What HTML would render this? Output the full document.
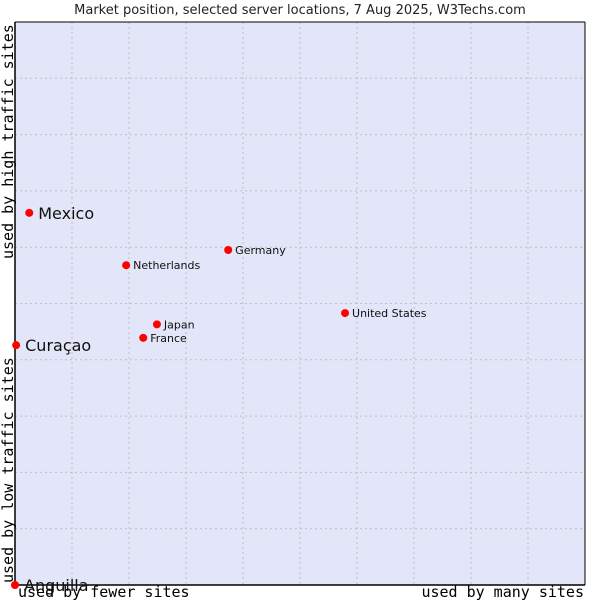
<!DOCTYPE html>
<html><head><meta charset="utf-8"><style>
body{margin:0;background:#fff;}
svg{display:block;font-family:"DejaVu Sans","Liberation Sans",sans-serif;}
</style></head><body>
<svg id="c" width="600" height="600">
<text x="300" y="14" text-anchor="middle" font-size="13" fill="#222">Market position, selected server locations, 7 Aug 2025, W3Techs.com</text>
<rect x="15" y="22" width="570" height="563" fill="#e3e5f8"/>
<g id="grid"></g>
<line x1="15" y1="22" x2="15" y2="585" stroke="#000" stroke-width="1.5"/>
<line x1="15" y1="585" x2="585" y2="585" stroke="#000" stroke-width="1.5"/>
<line x1="15" y1="22" x2="585" y2="22" stroke="#000" stroke-width="1"/>
<line x1="585" y1="22" x2="585" y2="585" stroke="#000" stroke-width="1"/>
<g id="pts"></g>
<text x="18" y="597" font-family="DejaVu Sans Mono,Liberation Mono,monospace" font-size="15" fill="#000">used by fewer sites</text>
<text x="584" y="597" text-anchor="end" font-family="DejaVu Sans Mono,Liberation Mono,monospace" font-size="15" fill="#000">used by many sites</text>
<text transform="translate(13,583) rotate(-90)" font-family="DejaVu Sans Mono,Liberation Mono,monospace" font-size="15" fill="#000">used by low traffic sites</text>
<text transform="translate(13,259) rotate(-90)" font-family="DejaVu Sans Mono,Liberation Mono,monospace" font-size="15" fill="#000">used by high traffic sites</text>
</svg>
<script>
const names = ["Mexico","Curaçao","Anguilla","Netherlands","Germany","Japan","France","United States"];
const xVals = [2.5,0.2,0,19.5,37.4,24.9,22.5,57.9];
const yVals = [66.1,42.6,0,56.8,59.5,46.3,43.9,48.3];
const bigLabel = [true,true,true,false,false,false,false,false];
const NS="http://www.w3.org/2000/svg";
const L=15,R=585,T=22,B=585;
const sx=v=>L+v/100*(R-L), sy=v=>B-v/100*(B-T);
const grid=document.getElementById('grid');
for(let i=1;i<10;i++){
  const v=document.createElementNS(NS,'line');
  v.setAttribute('x1',sx(i*10));v.setAttribute('x2',sx(i*10));v.setAttribute('y1',T);v.setAttribute('y2',B);
  v.setAttribute('stroke','#c0c0c0');v.setAttribute('stroke-dasharray','2,3');
  
  
  grid.appendChild(v);
  const h=document.createElementNS(NS,'line');
  h.setAttribute('y1',sy(i*10));h.setAttribute('y2',sy(i*10));h.setAttribute('x1',L);h.setAttribute('x2',R);
  h.setAttribute('stroke','#c0c0c0');h.setAttribute('stroke-dasharray','2,3');
  
  
  grid.appendChild(h);
}
const pts=document.getElementById('pts');
names.forEach((n,i)=>{
  const x=sx(xVals[i]), y=sy(yVals[i]);
  const d=document.createElementNS(NS,'circle');
  d.setAttribute('cx',x);d.setAttribute('cy',y);d.setAttribute('r',4);d.setAttribute('fill','#f00');
  
  
  pts.appendChild(d);
  const t=document.createElementNS(NS,'text');
  t.setAttribute('x',x+(bigLabel[i]?9:7));t.setAttribute('y',y+(bigLabel[i]?6:4));
  t.setAttribute('font-size',bigLabel[i]?16:11);t.setAttribute('fill','#111');
  t.textContent=n;
  
  
  pts.appendChild(t);
});
</script>
</body></html>
